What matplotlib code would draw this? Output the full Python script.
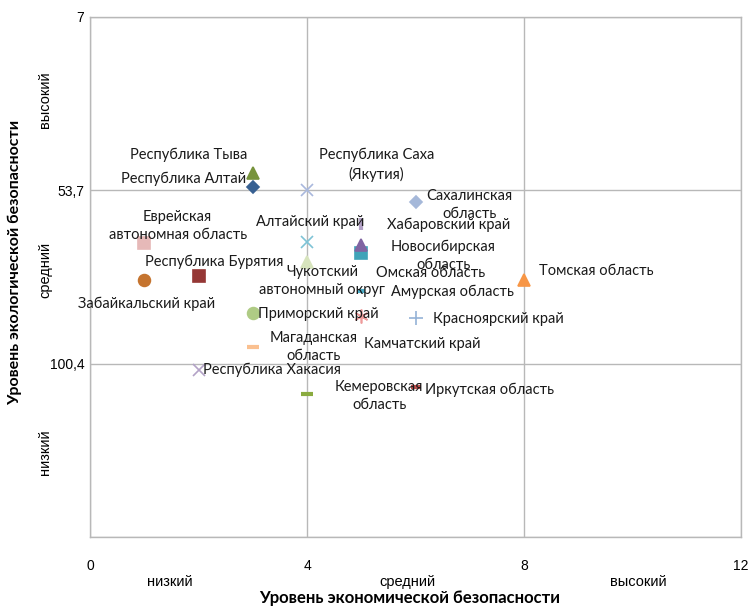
import matplotlib
matplotlib.use('Agg')
import matplotlib.pyplot as plt

# regions: economic level (x) and ecological level (y, rank scale)
regions = ['Республика Тыва', 'Республика Алтай', 'Республика Саха\n(Якутия)',
           'Сахалинская\nобласть', 'Еврейская\nавтономная область', 'Алтайский край',
           'Хабаровский край', 'Новосибирская\nобласть', 'Омская область',
           'Республика Бурятия', 'Чукотский\nавтономный округ', 'Амурская область',
           'Томская область', 'Забайкальский край', 'Приморский край',
           'Красноярский край', 'Магаданская\nобласть', 'Камчатский край',
           'Республика Хакасия', 'Кемеровская\nобласть', 'Иркутская область']
econ = [3, 3, 4, 6, 1, 4, 5, 5, 5, 2, 4, 5, 8, 1, 3, 6, 3, 5, 2, 4, 6]
ecol = [49.0, 52.8, 53.6, 56.8, 67.8, 67.6, 62.7, 70.5, 68.4, 76.7, 73.0, 80.8,
        77.8, 77.8, 86.7, 88.0, 95.8, 87.5, 102.0, 108.7, 106.6]

ytick_vals = [7, 53.7, 100.4, 147.1]
ytick_labels = ['7', '53,7', '100,4', '']
xtick_vals = [0, 4, 8, 12]
levels = ['низкий', 'средний', 'высокий']

# marker style per series (marker, size, colour)
styles = [('^', 9, '#77933C'), ('D', 6.5, '#376092'), ('x', 9, '#A9B8DD'),
          ('D', 6.5, '#A5B8D9'), ('s', 8, '#E6B9B8'), ('x', 9, '#7EC3D6'),
          ('|', 8, '#B3A2C7'), ('s', 9, '#3FA3B8'), ('^', 8, '#8064A2'),
          ('s', 9, '#953735'), ('^', 9, '#D7E4BD'), ('_', 6, '#4BACC6'),
          ('^', 9, '#F79646'), ('o', 8.5, '#C5742F'), ('o', 8.5, '#AFCB85'),
          ('+', 10, '#95B3D7'), ('_', 9, '#FAC090'), ((6, 2, 0), 10, '#EE9A9A'),
          ('x', 9, '#B3A2C7'), ('_', 9, '#8AAB3F'), ('_', 7, '#C0504D')]
# label offsets from the marker, in points
offsets = [(-46, 13), (-50, 6), (50, 18), (39, -2), (24, 12), (2, 14), (63, -1),
           (59, -2), (50, -20), (11, 10), (11, -14), (66, -1), (52, 6), (2, -17),
           (47, -1), (60, -1), (44, 0), (44, -20), (53, 0), (52, -1), (53, -2)]

plt.rcParams['font.family'] = ['Lato', 'DejaVu Sans']

fig = plt.figure(figsize=(7.52, 6.06), dpi=100)
ax = fig.add_axes([90/752, 1-537/606, 651/752, 520/606])

for i in range(len(regions)):
    m, ms, c = styles[i]
    lw = 3 if m in ('_', '|') else 1.2
    ax.plot(econ[i], ecol[i], linestyle='none', marker=m, markersize=ms,
            color=c, markeredgecolor=c, markeredgewidth=lw)
    ax.annotate(regions[i], (econ[i], ecol[i]), xytext=offsets[i],
                textcoords='offset points', ha='center', va='center',
                fontsize=10.5, linespacing=1.35, color='#1a1a1a')

ax.set_xlim(0, 12)
ax.set_ylim(147.1, 7)
ax.set_xticks(xtick_vals)
ax.set_xticklabels([str(v) for v in xtick_vals], family='Liberation Sans', fontsize=10)
ax.set_yticks(ytick_vals)
ax.set_yticklabels(ytick_labels, family='Liberation Sans', fontsize=10)
ax.tick_params(length=0, pad=16)
ax.tick_params(axis='y', pad=4)
ax.grid(True, color='#B8B8B8', linewidth=1)
for s in ax.spines.values():
    s.set_color('#B8B8B8')
    s.set_linewidth(1)

# level captions along the axes
for x, t in zip([170, 407, 638], levels):
    fig.text(x/752, 1-582/606, t, ha='center', va='center',
             family='Liberation Sans', fontsize=10.5)
for y, t in zip([452, 270, 100], levels):
    fig.text(45/752, 1-y/606, t, ha='center', va='center', rotation=90,
             family='Liberation Sans', fontsize=10.5)

fig.text(410/752, 1-598/606, 'Уровень экономической безопасности',
         ha='center', va='center', fontsize=12, fontweight='bold')
fig.text(15/752, 1-262/606, 'Уровень экологической безопасности',
         ha='center', va='center', rotation=90, fontsize=11.5, fontweight='bold')

fig.savefig('out.png', dpi=100)
